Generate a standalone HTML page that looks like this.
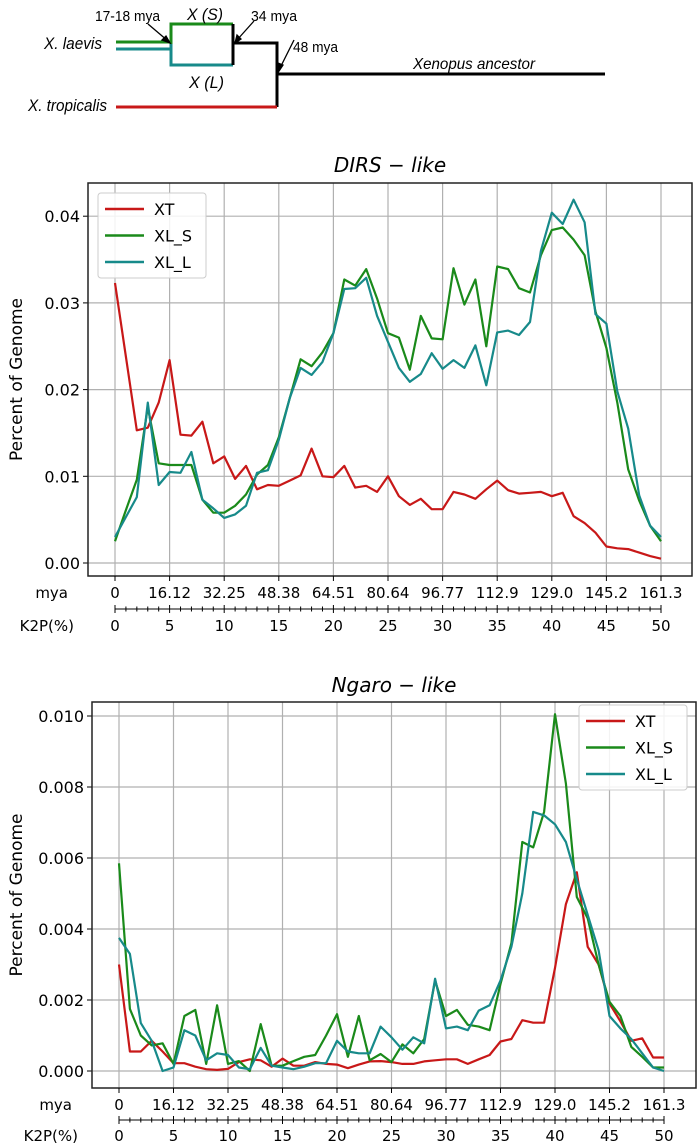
<!DOCTYPE html>
<html><head><meta charset="utf-8"><style>
html,body{margin:0;padding:0;background:#fff;}
svg{display:block;font-family:"DejaVu Sans","Liberation Sans",sans-serif;}
</style></head><body>
<svg id="fig" width="700" height="1144" viewBox="0 0 700 1144" xmlns="http://www.w3.org/2000/svg">
<g font-family="Liberation Sans, sans-serif" font-style="italic" font-size="17">
  <line x1="116" y1="42" x2="171" y2="42" stroke="#1a8a1a" stroke-width="3"/>
  <line x1="116" y1="49" x2="171" y2="49" stroke="#178a8a" stroke-width="3"/>
  <path d="M171,44 V24 H233" fill="none" stroke="#1a8a1a" stroke-width="3"/>
  <path d="M171,44 V65 H233" fill="none" stroke="#178a8a" stroke-width="3"/>
  <path d="M233,24 V65 M233,43 H277 V107" fill="none" stroke="#000" stroke-width="3"/>
  <line x1="116" y1="107" x2="277" y2="107" stroke="#c81818" stroke-width="3"/>
  <line x1="277" y1="74" x2="605" y2="74" stroke="#000" stroke-width="3"/>
  <g stroke="#000" stroke-width="1.3" fill="#000">
    <line x1="148" y1="24" x2="168" y2="41"/>
    <polygon points="170,43 162,40 166,36"/>
    <line x1="254" y1="21" x2="237" y2="40"/>
    <polygon points="235,43 237,35 241,39"/>
    <line x1="294" y1="40" x2="280" y2="68"/>
    <polygon points="279,71 278,63 283,65"/>
  </g>
  <text x="44" y="49" textLength="58" lengthAdjust="spacingAndGlyphs">X. laevis</text>
  <text x="28" y="111" textLength="79" lengthAdjust="spacingAndGlyphs">X. tropicalis</text>
  <text x="187" y="20" textLength="36" lengthAdjust="spacingAndGlyphs">X (S)</text>
  <text x="189" y="88" textLength="35" lengthAdjust="spacingAndGlyphs">X (L)</text>
  <text x="413" y="69" textLength="122" lengthAdjust="spacingAndGlyphs" font-size="16">Xenopus ancestor</text>
  <g font-style="normal" font-size="15">
    <text x="95" y="21" textLength="65" lengthAdjust="spacingAndGlyphs">17-18 mya</text>
    <text x="251" y="21" textLength="46" lengthAdjust="spacingAndGlyphs">34 mya</text>
    <text x="293" y="52" textLength="45" lengthAdjust="spacingAndGlyphs">48 mya</text>
  </g>
</g>
</svg>
<script>
// ---------- chart data ----------
const k2pValues = [];
for (let i = 0; i <= 50; i++) k2pValues.push(i);
const myaTicks = ["0","16.12","32.25","48.38","64.51","80.64","96.77","112.9","129.0","145.2","161.3"];
const k2pTicks = [0,5,10,15,20,25,30,35,40,45,50];
const seriesNames = ["XT","XL_S","XL_L"];

const dirsXT = [0.0323,0.0238,0.0153,0.0156,0.0185,0.0234,0.0148,0.0147,0.0163,0.0115,0.0123,0.0097,0.0112,0.0085,0.0090,0.0089,0.0095,0.0101,0.0132,0.0100,0.0099,0.0112,0.0087,0.0089,0.0082,0.0100,0.0077,0.0067,0.0074,0.0062,0.0062,0.0082,0.0079,0.0074,0.0085,0.0095,0.0084,0.0080,0.0081,0.0082,0.0077,0.0081,0.0054,0.0046,0.0035,0.0019,0.0017,0.0016,0.0012,0.0008,0.0005];
const dirsXLS = [0.0025,0.0061,0.0096,0.0180,0.0115,0.0113,0.0113,0.0113,0.0073,0.0058,0.0058,0.0066,0.0079,0.0102,0.0113,0.0145,0.0190,0.0235,0.0227,0.0243,0.0265,0.0327,0.0320,0.0339,0.0305,0.0265,0.0260,0.0223,0.0285,0.0259,0.0258,0.0340,0.0298,0.0327,0.0250,0.0342,0.0339,0.0317,0.0312,0.0355,0.0384,0.0387,0.0373,0.0355,0.0290,0.0248,0.0185,0.0108,0.0072,0.0043,0.0025];
const dirsXLL = [0.0030,0.0053,0.0076,0.0185,0.0090,0.0105,0.0104,0.0128,0.0073,0.0063,0.0052,0.0056,0.0066,0.0104,0.0107,0.0142,0.0190,0.0225,0.0217,0.0232,0.0265,0.0316,0.0317,0.0329,0.0285,0.0255,0.0225,0.0209,0.0218,0.0242,0.0224,0.0234,0.0225,0.0251,0.0205,0.0266,0.0268,0.0263,0.0278,0.0360,0.0404,0.0391,0.0419,0.0393,0.0287,0.0276,0.0198,0.0155,0.0078,0.0043,0.0030];
const dirsYTicks = ["0.00","0.01","0.02","0.03","0.04"];

const ngaroXT = [0.00300,0.00055,0.00055,0.00085,0.00055,0.00022,0.00022,0.00012,0.00005,0.00003,0.00006,0.00025,0.00033,0.00030,0.00012,0.00035,0.00015,0.00015,0.00025,0.00020,0.00018,0.00008,0.00018,0.00027,0.00028,0.00025,0.00020,0.00020,0.00027,0.00030,0.00033,0.00033,0.00020,0.00033,0.00045,0.00083,0.00090,0.00143,0.00136,0.00136,0.00290,0.00470,0.00560,0.00350,0.00300,0.00190,0.00140,0.00085,0.00092,0.00038,0.00038];
const ngaroXLS = [0.00585,0.00175,0.00100,0.00072,0.00078,0.00020,0.00155,0.00172,0.00020,0.00185,0.00020,0.00028,0.00000,0.00132,0.00015,0.00015,0.00028,0.00040,0.00045,0.00100,0.00160,0.00040,0.00155,0.00030,0.00048,0.00025,0.00075,0.00050,0.00090,0.00255,0.00155,0.00172,0.00130,0.00125,0.00115,0.00245,0.00360,0.00645,0.00630,0.00730,0.01005,0.00810,0.00490,0.00430,0.00300,0.00195,0.00155,0.00068,0.00040,0.00010,0.00010];
const ngaroXLL = [0.00375,0.00330,0.00135,0.00085,0.00000,0.00010,0.00115,0.00100,0.00030,0.00050,0.00045,0.00010,0.00005,0.00065,0.00015,0.00010,0.00005,0.00012,0.00022,0.00022,0.00085,0.00055,0.00050,0.00050,0.00125,0.00095,0.00060,0.00095,0.00078,0.00260,0.00120,0.00125,0.00115,0.00170,0.00185,0.00255,0.00350,0.00500,0.00730,0.00720,0.00695,0.00645,0.00540,0.00440,0.00340,0.00155,0.00120,0.00090,0.00050,0.00010,0.00000];
const ngaroYTicks = ["0.000","0.002","0.004","0.006","0.008","0.010"];

const colors = ["#c81818","#1a8a1a","#178a8a"];
const NS = "http://www.w3.org/2000/svg";
const svg = document.getElementById("fig");

function mk(tag, attrs, parent) {
  const e = document.createElementNS(NS, tag);
  for (const k in attrs) e.setAttribute(k, attrs[k]);
  (parent || svg).appendChild(e);
  return e;
}

function drawChart(cfg, series, yTicks) {
  const g = mk("g", {});
  
  
  const xs = v => cfg.x0 + (v - 0) * (cfg.x50 - cfg.x0) / 50;
  const ys = v => cfg.y0 - (v / cfg.yStep) * cfg.yPx;
  k2pTicks.forEach(t => {
    const l = mk("line", {x1: xs(t), x2: xs(t), y1: cfg.top, y2: cfg.bottom, stroke: "#b0b0b0", "stroke-width": 1.2}, g);
    
    
  });
  yTicks.forEach(t => {
    const y = ys(parseFloat(t));
    const l = mk("line", {x1: cfg.left, x2: cfg.right, y1: y, y2: y, stroke: "#b0b0b0", "stroke-width": 1.2}, g);
    
    
    const tk = mk("line", {x1: cfg.left - 5, x2: cfg.left, y1: y, y2: y, stroke: "#000", "stroke-width": 1}, g);
    
    
    const tx = mk("text", {x: cfg.left - 8, y: y + 6, "text-anchor": "end", "font-size": 16}, g);
    tx.textContent = t;
    
    
  });
  series.forEach((vals, si) => {
    const d = vals.map((v, i) => (i ? "L" : "M") + xs(k2pValues[i]).toFixed(1) + "," + ys(v).toFixed(1)).join(" ");
    const p = mk("path", {d: d, fill: "none", stroke: colors[si], "stroke-width": 2.2, "stroke-linejoin": "round"}, g);
    
    
  });
  const fr = mk("rect", {x: cfg.left, y: cfg.top, width: cfg.right - cfg.left, height: cfg.bottom - cfg.top, fill: "none", stroke: "#222", "stroke-width": 1.5}, g);
  
  
  const my = mk("text", {x: cfg.left - 20, y: cfg.myaY, "text-anchor": "end", "font-size": 15}, g);
  my.textContent = "mya";
  
  
  const kp = mk("text", {x: cfg.left - 14, y: cfg.k2pY, "text-anchor": "end", "font-size": 15}, g);
  kp.textContent = "K2P(%)";
  
  
  k2pTicks.forEach((t, i) => {
    const tk = mk("line", {x1: xs(t), x2: xs(t), y1: cfg.bottom, y2: cfg.bottom + 5, stroke: "#000", "stroke-width": 1}, g);
    
    
    const a = mk("text", {x: xs(t), y: cfg.myaY, "text-anchor": "middle", "font-size": 15}, g);
    a.textContent = myaTicks[i];
    
    
    const b = mk("text", {x: xs(t), y: cfg.k2pY, "text-anchor": "middle", "font-size": 15}, g);
    b.textContent = String(t);
    
    
  });
  const rl = mk("line", {x1: xs(0), x2: xs(50), y1: cfg.rulerY, y2: cfg.rulerY, stroke: "#000", "stroke-width": 1}, g);
  
  
  k2pValues.forEach(v => {
    const big = v % 5 === 0;
    const t = mk("line", {x1: xs(v), x2: xs(v), y1: cfg.rulerY - (big ? 4 : 2.5), y2: cfg.rulerY + (big ? 4 : 2.5), stroke: "#000", "stroke-width": 1}, g);
    
    
  });
  const yt = mk("text", {x: 0, y: 0, "text-anchor": "middle", "font-size": 17, transform: "translate(" + cfg.ytX + "," + ((cfg.top + cfg.bottom) / 2) + ") rotate(-90)"}, g);
  yt.textContent = "Percent of Genome";
  
  
  const ti = mk("text", {x: (cfg.left + cfg.right) / 2, y: cfg.titleY, "text-anchor": "middle", "font-size": 20, "font-style": "italic"}, g);
  ti.textContent = cfg.title;
  
  
  const lg = mk("g", {}, g);
  
  
  const lb = mk("rect", {x: cfg.legX, y: cfg.legY, width: 108, height: 85, rx: 3, fill: "#fff", "fill-opacity": 0.85, stroke: "#ccc", "stroke-width": 1}, lg);
  
  
  seriesNames.forEach((n, i) => {
    const yy = cfg.legY + 16 + i * 26.5;
    const ln = mk("line", {x1: cfg.legX + 7, x2: cfg.legX + 46, y1: yy, y2: yy, stroke: colors[i], "stroke-width": 2.5}, lg);
    
    
    const tx = mk("text", {x: cfg.legX + 56, y: yy + 6, "font-size": 16}, lg);
    tx.textContent = n;
    
    
  });
}

drawChart({name: "dirs-like-chart", title: "DIRS \u2212 like", left: 88, right: 692, top: 183, bottom: 576,
  x0: 115, x50: 661, y0: 563, yStep: 0.01, yPx: 86.7, myaY: 598, rulerY: 609, k2pY: 631, ytX: 22, titleY: 172,
  legX: 98, legY: 193}, [dirsXT, dirsXLS, dirsXLL], dirsYTicks);

drawChart({name: "ngaro-like-chart", title: "Ngaro \u2212 like", left: 92, right: 696, top: 702, bottom: 1088,
  x0: 119, x50: 664, y0: 1071, yStep: 0.002, yPx: 71, myaY: 1110, rulerY: 1120, k2pY: 1141, ytX: 22, titleY: 692,
  legX: 579, legY: 705}, [ngaroXT, ngaroXLS, ngaroXLL], ngaroYTicks);
</script>
</body></html>
